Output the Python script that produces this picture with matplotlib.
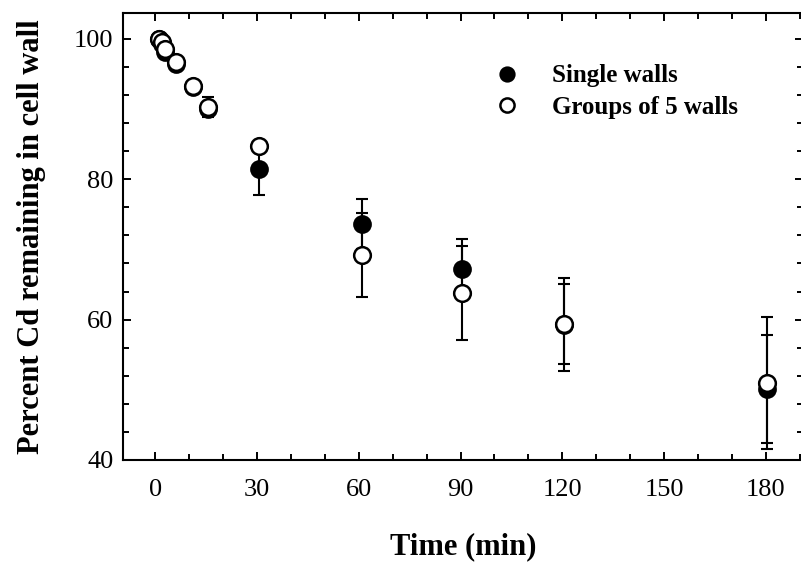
import matplotlib
matplotlib.use("Agg")
import matplotlib.pyplot as plt
from matplotlib.ticker import MultipleLocator

plt.rcParams['font.family'] = ['Liberation Serif', 'DejaVu Serif']

# time (min)
time = [1, 2, 3, 6, 11, 15.5, 30.5, 61, 90.5, 120.5, 180.5]
single = [100, 99.3, 98.2, 96.4, 93.2, 90.0, 81.4, 73.6, 67.2, 59.3, 50.1]
single_err = [0.3, 0.3, 0.3, 0.5, 0.5, 0.8, 3.7, 3.6, 4.3, 6.6, 7.7]
group = [100, 99.5, 98.5, 96.7, 93.3, 90.3, 84.8, 69.2, 63.8, 59.4, 51.0]
group_err = [0.3, 0.3, 0.3, 0.4, 0.5, 1.4, 0.5, 6.0, 6.7, 5.7, 9.4]

fig = plt.figure(figsize=(8.01, 5.63), dpi=100)
ax = fig.add_axes([0.1536, 0.183, 0.849, 0.794])

eb = dict(fmt='none', ecolor='black', elinewidth=1.5, capsize=4.5, capthick=1.5)
ax.errorbar(time, single, yerr=single_err, zorder=2, **eb)
ax.plot(time, single, 'o', ms=12, mfc='black', mec='black', mew=1.5,
        label='Single walls', zorder=3)
ax.errorbar(time, group, yerr=group_err, zorder=4, **eb)
ax.plot(time, group, 'o', ms=12, mfc='white', mec='black', mew=1.8,
        label='Groups of 5 walls', zorder=5)

ax.set_xlim(-9.5, 191)
ax.set_ylim(40, 103.7)
ax.xaxis.set_major_locator(MultipleLocator(30))
ax.xaxis.set_minor_locator(MultipleLocator(10))
ax.yaxis.set_major_locator(MultipleLocator(20))
ax.yaxis.set_minor_locator(MultipleLocator(4))
ax.tick_params(which='both', direction='in', top=True, right=True, width=1.4)
ax.tick_params(which='major', length=6)
ax.tick_params(which='minor', length=4)
ax.tick_params(axis='x', which='major', pad=14, labelsize=19)
ax.tick_params(axis='y', which='major', pad=7, labelsize=19)
for s in ax.spines.values():
    s.set_linewidth(1.5)

ax.set_xlabel("Time (min)", fontsize=22, fontweight='bold', labelpad=22)
ax.set_ylabel("Percent Cd remaining in cell wall", fontsize=22,
              fontweight='bold', labelpad=20)

leg = ax.legend(loc='upper left', bbox_to_anchor=(0.524, 0.913), frameon=False,
                prop={'size': 18, 'weight': 'bold'}, handlelength=1.2,
                handletextpad=1.2, labelspacing=0.34, markerscale=0.85,
                borderpad=0)

fig.savefig("out.png", dpi=100)
